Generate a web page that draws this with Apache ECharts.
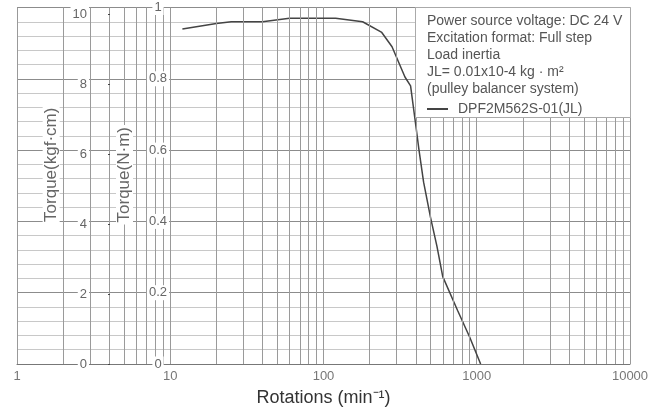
<!DOCTYPE html>
<html><head><meta charset="utf-8">
<script src="https://cdn.jsdelivr.net/npm/echarts@6/dist/echarts.min.js"></script>
<style>html,body{margin:0;padding:0;background:#fff}#c{width:659px;height:412px}</style>
</head><body><div id="c"></div>
<script>
// Data
const rpm       = [12, 20, 25, 40, 60, 120, 180, 240, 280, 340, 370, 400, 420, 450, 500, 550, 600, 750, 900, 1060];
const torqueNm  = [0.94, 0.955, 0.96, 0.96, 0.97, 0.97, 0.96, 0.93, 0.89, 0.805, 0.78, 0.67, 0.60, 0.51, 0.41, 0.33, 0.245, 0.15, 0.075, 0];
const seriesName = 'DPF2M562S-01(JL)';
const noteLines = ['Power source voltage: DC 24 V', 'Excitation format: Full step', 'Load inertia', 'JL= 0.01x10-4 kg · m²', '(pulley balancer system)'];
const nmTicks  = [0, 0.2, 0.4, 0.6, 0.8, 1];
const kgfTicks = [0, 2, 4, 6, 8, 10];
const KGFCM_PER_NM = 1 / 0.0980665;

const minorX = [];
[1, 10, 100, 1000].forEach(d => { for (let k = 2; k <= 9; k++) minorX.push(k * d); });

const FONT = 'Liberation Sans, Arial, sans-serif';
const chart = echarts.init(document.getElementById('c'));
chart.setOption({
  animation: false,
  textStyle: { fontFamily: FONT },
  grid: { left: 17, right: 29, top: 7, bottom: 46 },
  title: {
    text: noteLines.join('\n'),
    left: 415, top: 7,
    padding: [6, 8, 20, 12],
    backgroundColor: '#fff', borderColor: '#aaa', borderWidth: 1,
    textStyle: { fontSize: 14, fontWeight: 'normal', color: '#555', lineHeight: 17, fontFamily: FONT }
  },
  legend: {
    data: [{ name: seriesName, icon: 'rect' }], left: 427, top: 102, z: 10, padding: 0,
    itemWidth: 21, itemHeight: 2,
    itemStyle: { color: '#444' },
    textStyle: { color: '#555', fontSize: 14, fontFamily: FONT, padding: [0, 0, 0, 5] }
  },
  xAxis: {
    type: 'log', logBase: 10, min: 1, max: 10000,
    axisLine: { show: true, lineStyle: { color: '#777' } },
    axisTick: { show: false },
    axisLabel: { color: '#777', fontSize: 13, margin: 6, formatter: v => String(v) },
    splitLine: { show: true, lineStyle: { color: '#999', width: 1 } },
    name: 'Rotations (min⁻¹)', nameLocation: 'middle', nameGap: 25,
    nameTextStyle: { color: '#333', fontSize: 18 }
  },
  yAxis: [
    {
      type: 'value', min: 0, max: 1, interval: 0.2,
      axisLine: { show: false }, axisTick: { show: false }, axisLabel: { show: false },
      splitLine: { show: true, lineStyle: { color: '#8c8c8c' } },
      minorTick: { show: false, splitNumber: 5 },
      minorSplitLine: { show: true, lineStyle: { color: '#c8c8c8' } }
    },
    {
      type: 'value', min: 0, max: 1, interval: 0.2, position: 'left', offset: -141, z: 5,
      axisLine: { show: false }, axisTick: { show: false }, splitLine: { show: false },
      axisLabel: { margin: 0, align: 'center', color: '#666', fontSize: 13, backgroundColor: '#fff', padding: [1, 2], customValues: nmTicks },
      name: '{a|Torque(N·m)}', nameLocation: 'middle', nameGap: 25,
      nameTextStyle: { padding: [0, 0, 0, 22], rich: { a: { fontSize: 17, color: '#666', backgroundColor: '#fff', padding: [0, 2] } } }
    },
    {
      type: 'value', min: 0, max: KGFCM_PER_NM, interval: 2, position: 'left', offset: -93, z: 5,
      axisLine: { show: false }, splitLine: { show: false },
      axisTick: { show: true, length: 2, lineStyle: { color: '#444' }, customValues: kgfTicks },
      axisLabel: { margin: 21, color: '#666', fontSize: 13, backgroundColor: '#fff', padding: [1, 2], customValues: kgfTicks },
      name: '{a|Torque(kgf·cm)}', nameLocation: 'middle', nameGap: 44,
      nameTextStyle: { padding: [0, 0, 0, 42], rich: { a: { fontSize: 17, color: '#666', backgroundColor: '#fff', padding: [0, 2] } } }
    }
  ],
  series: [
    {
      type: 'line', name: 'grid', data: [], z: 1, silent: true,
      markLine: {
        silent: true, symbol: ['none', 'none'], label: { show: false },
        lineStyle: { color: '#9a9a9a', width: 1, type: 'solid' },
        data: minorX.map(v => ({ xAxis: v }))
      }
    },
    {
      type: 'line', name: seriesName, z: 3,
      data: rpm.map((r, i) => [r, torqueNm[i]]),
      symbol: 'none', smooth: false,
      lineStyle: { color: '#444', width: 1.5 }, itemStyle: { color: '#444' }
    }
  ]
});
</script></body></html>
